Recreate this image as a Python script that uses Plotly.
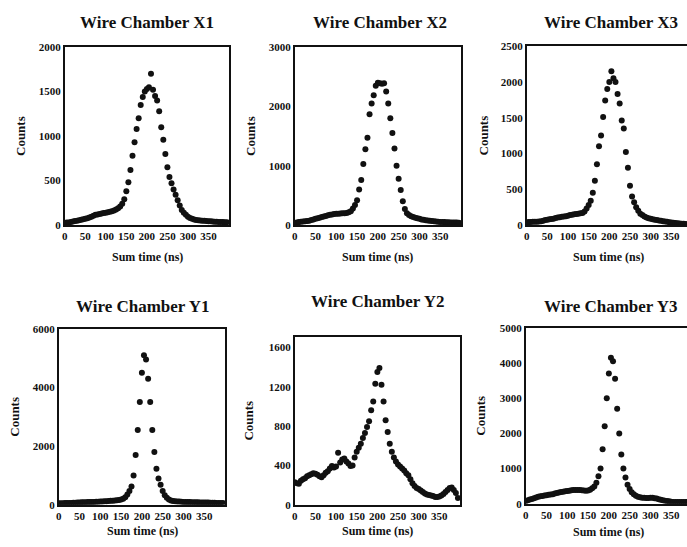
import plotly.graph_objects as go

# ---------------- data ----------------
sum_time_ns = [0, 5, 10, 15, 20, 25, 30, 35, 40, 45,
               50, 55, 60, 65, 70, 75, 80, 85, 90, 95,
               100, 105, 110, 115, 120, 125, 130, 135, 140, 145,
               150, 155, 160, 165, 170, 175, 180, 185, 190, 195,
               200, 205, 210, 215, 220, 225, 230, 235, 240, 245,
               250, 255, 260, 265, 270, 275, 280, 285, 290, 295,
               300, 305, 310, 315, 320, 325, 330, 335, 340, 345,
               350, 355, 360, 365, 370, 375, 380, 385, 390, 395]

counts_x1 = [25, 28, 30, 35, 40, 45, 50, 55, 60, 65,
             70, 78, 85, 95, 105, 115, 120, 125, 130, 135,
             140, 145, 150, 155, 165, 175, 190, 210, 240, 290,
             380, 480, 620, 780, 930, 1080, 1200, 1350, 1440, 1500,
             1530, 1550, 1700, 1520, 1450, 1400, 1280, 1100, 960, 800,
             650, 540, 470, 400, 340, 280, 220, 170, 140, 115,
             95, 80, 70, 62, 58, 55, 52, 50, 48, 46,
             44, 42, 40, 38, 37, 36, 35, 34, 33, 32]

counts_x2 = [40, 45, 50, 55, 60, 65, 70, 75, 85, 95,
             105, 115, 125, 135, 145, 155, 165, 175, 180, 185,
             190, 192, 195, 198, 200, 205, 215, 235, 280, 340,
             420, 600, 760, 1030, 1280, 1470, 1870, 2050, 2190, 2350,
             2400, 2390, 2380, 2390, 2250, 2050, 1800, 1550, 1290, 1000,
             780, 590, 400, 270, 200, 170, 150, 135, 125, 115,
             105, 95, 88, 82, 77, 72, 68, 64, 60, 57,
             54, 52, 50, 48, 46, 45, 44, 43, 42, 41]

counts_x3 = [40, 42, 44, 45, 46, 48, 50, 55, 60, 70,
             75, 80, 85, 90, 100, 105, 110, 115, 120, 125,
             130, 140, 145, 150, 155, 160, 165, 170, 190, 230,
             280, 340, 450, 620, 850, 1100, 1250, 1510, 1740, 1900,
             2000, 2150, 2050, 2000, 1830, 1700, 1460, 1350, 1020, 800,
             550, 400, 320, 250, 200, 160, 140, 120, 105, 95,
             88, 80, 75, 70, 65, 60, 55, 50, 45, 40,
             35, 32, 28, 25, 22, 20, 18, 15, 12, 10]

counts_y1 = [50, 55, 55, 60, 60, 65, 65, 70, 70, 75,
             80, 85, 85, 90, 95, 95, 100, 100, 105, 105,
             110, 115, 120, 125, 130, 135, 140, 145, 155, 165,
             180, 210, 260, 350, 470, 620, 1000, 1700, 2550, 3500,
             4500, 5100, 4950, 4300, 3500, 2550, 1800, 1230, 900, 680,
             470, 330, 240, 180, 150, 130, 120, 115, 110, 105,
             100, 100, 95, 95, 90, 90, 85, 85, 80, 80,
             75, 75, 75, 70, 70, 70, 65, 65, 65, 60]

counts_y2 = [230, 220, 215, 245, 260, 270, 290, 300, 310, 320,
             315, 305, 290, 280, 300, 325, 340, 370, 395, 380,
             390, 530, 430, 460, 470, 440, 420, 395, 400, 480,
             540, 580, 620, 680, 730, 790, 850, 960, 1050, 1230,
             1350, 1390, 1220, 1050, 860, 740, 620, 540, 480, 440,
             410, 390, 370, 350, 320, 300, 260, 220, 190, 170,
             160, 145, 130, 115, 105, 100, 95, 90, 80, 80,
             85, 95, 110, 130, 150, 170, 175, 150, 120, 70]

counts_y3 = [80, 100, 120, 140, 160, 180, 200, 215, 225, 235,
             245, 255, 265, 275, 290, 305, 320, 335, 345, 355,
             365, 375, 385, 390, 395, 395, 390, 385, 380, 375,
             380, 400, 440, 490, 600, 780, 1000, 1550, 2200, 3000,
             3700, 4150, 4050, 3550, 2700, 2000, 1400, 1000, 750, 540,
             420, 330, 270, 230, 200, 185, 175, 170, 165, 165,
             170, 170, 160, 150, 130, 115, 100, 90, 80, 70,
             60, 55, 55, 55, 55, 55, 55, 55, 55, 55]

titles = ["Wire Chamber X1", "Wire Chamber X2", "Wire Chamber X3",
          "Wire Chamber Y1", "Wire Chamber Y2", "Wire Chamber Y3"]
series = [counts_x1, counts_x2, counts_x3, counts_y1, counts_y2, counts_y3]
y_ranges = [[0, 2000], [0, 3000], [0, 2500], [0, 6000], [0, 1710], [0, 5000]]
y_dticks = [500, 1000, 500, 2000, 400, 1000]
x_ranges = [[0, 400], [0, 400], [0, 388], [0, 400], [0, 400], [0, 388]]
x_tickvals = [0, 50, 100, 150, 200, 250, 300, 350]

# ---------------- layout (pixel boxes) ----------------
W, H = 687, 547
# (left, right, top, bottom) in pixels
boxes = [(62, 227, 42, 224), (293, 460, 42, 224), (526, 687, 41, 224),
         (56, 223, 330, 510), (293, 459, 338, 510), (525, 687, 329, 509)]
title_pos = [(145, 17), (379, 17), (611, 17), (140, 307), (376, 302), (610, 307)]
ylab_x = [17, 248, 483, 12, 247, 480]
xlab_y = [257, 257, 257, 537, 537, 538]
xlab_x = [145, 376, 608, 140, 376, 608]

FONT = "Liberation Serif, Times New Roman, serif"
fig = go.Figure()
annotations = []
for i in range(6):
    l, r, t, b = boxes[i]
    xa = "xaxis" if i == 0 else f"xaxis{i+1}"
    ya = "yaxis" if i == 0 else f"yaxis{i+1}"
    xref = "x" if i == 0 else f"x{i+1}"
    yref = "y" if i == 0 else f"y{i+1}"
    fig.add_trace(go.Scatter(
        x=sum_time_ns, y=series[i], mode="markers",
        marker=dict(size=6, color="#111111"),
        xaxis=xref, yaxis=yref, showlegend=False))
    right_col = (i % 3 == 2)
    fig.layout[xa] = dict(
        domain=[l / W, r / W], range=x_ranges[i], anchor=yref,
        showline=True, linecolor="#111", linewidth=1.6, mirror=True,
        showgrid=False, zeroline=False, ticks="",
        tickvals=x_tickvals, tickangle=0,
        tickfont=dict(family=FONT, size=11, color="#111", weight="bold"))
    fig.layout[ya] = dict(
        domain=[1 - b / H, 1 - t / H], range=y_ranges[i], anchor=xref,
        showline=True, linecolor="#111", linewidth=1.6,
        mirror=(not right_col),
        showgrid=False, zeroline=False, ticks="",
        dtick=y_dticks[i], tick0=0,
        tickfont=dict(family=FONT, size=11, color="#111", weight="bold"))
    tx, ty = title_pos[i]
    annotations.append(dict(
        text=titles[i], x=tx / W, y=1 - ty / H, xref="paper", yref="paper",
        showarrow=False, xanchor="center", yanchor="middle",
        font=dict(family=FONT, size=17, color="#111", weight="bold")))
    annotations.append(dict(
        text="Counts", x=ylab_x[i] / W, y=1 - ((t + b) / 2) / H,
        xref="paper", yref="paper", showarrow=False, textangle=-90,
        xanchor="center", yanchor="middle",
        font=dict(family=FONT, size=13, color="#111", weight="bold")))
    annotations.append(dict(
        text="Sum time (ns)", x=xlab_x[i] / W, y=1 - xlab_y[i] / H,
        xref="paper", yref="paper", showarrow=False,
        xanchor="center", yanchor="middle",
        font=dict(family=FONT, size=12, color="#111", weight="bold")))

fig.update_layout(
    width=W, height=H, margin=dict(l=0, r=0, t=0, b=0),
    paper_bgcolor="white", plot_bgcolor="white",
    annotations=annotations)

fig.write_html("out.html")
